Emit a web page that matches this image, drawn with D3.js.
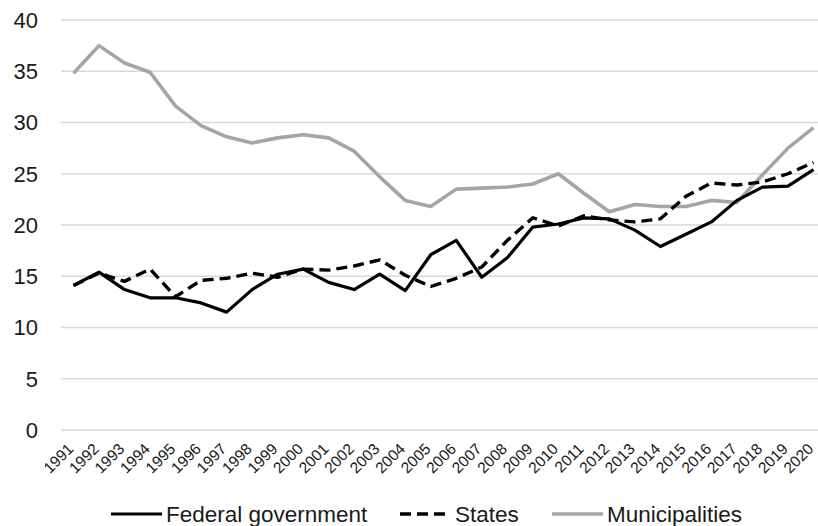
<!DOCTYPE html>
<html>
<head>
<meta charset="utf-8"/>
<style>
  body { margin: 0; background: #fff; }
  text { font-family: "Liberation Sans", Arial, sans-serif; }
</style>
</head>
<body>
<script src="https://d3js.org/d3.v7.min.js"></script>
<script>
var width = 818, height = 526;

var years = d3.range(1991, 2021).map(String);
var federal = [14.1, 15.4, 13.7, 12.9, 12.9, 12.4, 11.5, 13.7, 15.2, 15.7,
               14.4, 13.7, 15.2, 13.6, 17.1, 18.5, 14.9, 16.8, 19.8, 20.1,
               20.7, 20.6, 19.5, 17.9, 19.1, 20.3, 22.4, 23.7, 23.8, 25.4];
var states = [14.1, 15.3, 14.5, 15.7, 13.0, 14.6, 14.8, 15.3, 14.9, 15.7,
              15.6, 16.0, 16.6, 15.1, 14.0, 14.8, 15.9, 18.5, 20.7, 19.9,
              20.9, 20.5, 20.3, 20.6, 22.8, 24.1, 23.9, 24.2, 25.0, 26.1];
var municipalities = [34.8, 37.5, 35.8, 34.9, 31.6, 29.7, 28.6, 28.0, 28.5, 28.8,
                      28.5, 27.2, 24.7, 22.4, 21.8, 23.5, 23.6, 23.7, 24.0, 25.0,
                      23.1, 21.3, 22.0, 21.8, 21.8, 22.4, 22.2, 24.9, 27.5, 29.5];
var yTicks = [0, 5, 10, 15, 20, 25, 30, 35, 40];
var seriesNames = ["Federal government", "States", "Municipalities"];

var svg = d3.select("body").append("svg")
            .attr("width", width)
            .attr("height", height);

var x = d3.scalePoint().domain(years).range([73.5, 813.5]);
var y = d3.scaleLinear().domain([0, 40]).range([430, 20]);

// gridlines
svg.append("g")
   .selectAll("line")
   .data(yTicks)
   .enter().append("line")
   .attr("x1", 61).attr("x2", width)
   .attr("y1", function(d){ return y(d); })
   .attr("y2", function(d){ return y(d); })
   .attr("stroke", "#d9d9d9")
   .attr("stroke-width", 1.5);

// y labels
svg.append("g")
   .selectAll("text")
   .data(yTicks)
   .enter().append("text")
   .attr("x", 38)
   .attr("y", function(d){ return y(d); })
   .attr("dy", "0.36em")
   .attr("text-anchor", "end")
   .attr("font-size", 22)
   .attr("fill", "#1a1a1a")
   .text(function(d){ return d; });

// x labels, rotated
svg.append("g")
   .selectAll("text")
   .data(years)
   .enter().append("text")
   .attr("transform", function(d){ return "translate(" + (x(d) - 3) + ",446) rotate(-45)"; })
   .attr("text-anchor", "end")
   .attr("dy", "0.35em")
   .attr("font-size", 15.5)
   .attr("fill", "#1a1a1a")
   .text(function(d){ return d; });

var styles = [
  { data: federal, color: "#000", w: 3.2, dash: null },
  { data: states, color: "#000", w: 3.4, dash: "11,6" },
  { data: municipalities, color: "#a5a5a5", w: 3.6, dash: null }
];

var line = d3.line()
  .x(function(d, i){ return x(years[i]); })
  .y(function(d){ return y(d); });

// municipalities first so the black lines sit on top
[2, 1, 0].forEach(function(k){
  var s = styles[k];
  svg.append("path")
     .datum(s.data)
     .attr("d", line)
     .attr("fill", "none")
     .attr("stroke", s.color)
     .attr("stroke-width", s.w)
     .attr("stroke-linejoin", "round")
     .attr("stroke-dasharray", s.dash);
});

// legend
var legendX = [111, 400, 552];
var lg = svg.append("g");
seriesNames.forEach(function(name, i){
  var s = styles[i];
  lg.append("line")
    .attr("x1", legendX[i]).attr("x2", legendX[i] + 51)
    .attr("y1", 514).attr("y2", 514)
    .attr("stroke", s.color)
    .attr("stroke-width", s.w)
    .attr("stroke-dasharray", s.dash);
  lg.append("text")
    .attr("x", legendX[i] + 55)
    .attr("y", 521.5)
    .attr("font-size", 22.5)
    .attr("fill", "#1a1a1a")
    .text(name);
});
</script>
</body>
</html>
